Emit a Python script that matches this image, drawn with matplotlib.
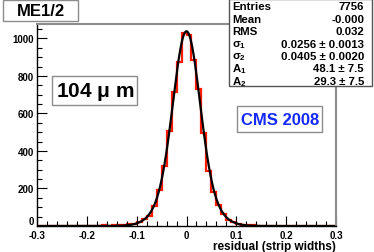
import numpy as np
import matplotlib
matplotlib.use("Agg")
import matplotlib.pyplot as plt
from matplotlib.ticker import MultipleLocator

plt.rcParams['font.family'] = ['Liberation Sans', 'DejaVu Sans']
plt.rcParams['font.weight'] = 'bold'
plt.rcParams['mathtext.fontset'] = 'custom'
plt.rcParams['mathtext.rm'] = 'Liberation Sans'
plt.rcParams['mathtext.bf'] = 'Liberation Sans:bold'
plt.rcParams['mathtext.it'] = 'Liberation Sans:italic'

# histogram: 60 bins of 0.01 from -0.3 to 0.3
x_lo, x_hi, n_bins = -0.3, 0.3, 60
counts = [0, 1, 0, 1, 0, 1, 1, 0, 2, 1, 1, 2, 2, 3, 2,
          3, 4, 6, 9, 13, 22, 38, 55, 104, 190, 318, 505, 712, 876, 1027,
          1018, 884, 728, 498, 292, 182, 112, 63, 34, 21, 11, 7, 5, 3, 2,
          2, 1, 2, 1, 1, 0, 1, 1, 0, 1, 0, 0, 1, 0, 1]

# double gaussian fit results from the stats box
entries = 7756
mean_txt = "-0.000"
rms = 0.032
sigma1, sigma1_err = 0.0256, 0.0013
sigma2, sigma2_err = 0.0405, 0.0020
a1, a1_err = 48.1, 7.5
a2, a2_err = 29.3, 7.5

title = "ME1/2"
resolution_label = r"104 $\mathregular{\mu}$ m"
cms_label = "CMS 2008"
x_label = "residual (strip widths)"
x_ticks = [-0.3, -0.2, -0.1, 0, 0.1, 0.2, 0.3]
x_ticklabels = ['-0.3', '-0.2', '-0.1', '0', '0.1', '0.2', '0.3']
y_ticks = [0, 200, 400, 600, 800, 1000]

W, H = 374, 253
fig = plt.figure(figsize=(W / 100, H / 100), dpi=100)
fig.patch.set_facecolor('white')

# axes box in pixel coords
left, right, top, bottom = 37, 336, 25, 227
ax = fig.add_axes([left / W, (H - bottom) / H, (right - left) / W, (bottom - top) / H])

edges = np.linspace(x_lo, x_hi, n_bins + 1)
ax.stairs(counts, edges, color='#ff1a00', lw=1.6)

bw = (x_hi - x_lo) / n_bins
xf = np.linspace(x_lo, x_hi, 600)
fit = (a1 / (np.sqrt(2 * np.pi) * sigma1) * np.exp(-xf**2 / (2 * sigma1**2))
       + a2 / (np.sqrt(2 * np.pi) * sigma2) * np.exp(-xf**2 / (2 * sigma2**2))) * bw / 0.01
ax.plot(xf, fit, color='black', lw=1.6)

ax.set_xlim(x_lo, x_hi)
ax.set_ylim(0, 1077)
ax.set_xticks(x_ticks)
ax.set_xticklabels(x_ticklabels)
ax.xaxis.set_minor_locator(MultipleLocator(0.02))
ax.set_yticks(y_ticks)
# the "0" of the y axis is placed by hand, just above "-0.3"
ax.set_yticklabels([''] + [str(v) for v in y_ticks[1:]])
ax.yaxis.set_minor_locator(MultipleLocator(50))
ax.tick_params(which='both', direction='in', top=False, right=False,
               labelsize=7, pad=2)
ax.tick_params(axis='x', pad=3)
ax.tick_params(which='major', length=7, width=0.8)
ax.tick_params(which='minor', length=3.5, width=0.8)
for lab in ax.get_xticklabels() + ax.get_yticklabels():
    lab.set_fontweight('bold')
ax.annotate(str(y_ticks[0]), xy=(0, 0), xycoords='axes fraction',
            xytext=(-2.5, 0), textcoords='offset points',
            ha='right', va='bottom', fontsize=7, fontweight='bold')
for s in ['left', 'bottom']:
    ax.spines[s].set_color('black')
    ax.spines[s].set_linewidth(1.0)
for s in ['top', 'right']:
    ax.spines[s].set_color('#8c8c8c')
    ax.spines[s].set_linewidth(1.5)

ax.set_xlabel(x_label, fontsize=8.5, fontweight='bold', loc='right', labelpad=0)


def px(x, y):
    return x / W, 1 - y / H


def box(x0, y0, x1, y1, ec='#8c8c8c', lw=1.0):
    r = plt.Rectangle(px(x0, y1), (x1 - x0) / W, (y1 - y0) / H,
                      transform=fig.transFigure, fc='white', ec=ec, lw=lw, zorder=5)
    fig.add_artist(r)


# title box
box(3, 1, 78, 22)
fig.text(*px(41, 12), title, ha='center', va='center', fontsize=12,
         fontweight='bold', zorder=6)

# stats box
box(229, 0, 372, 87, ec='#555555')
rows = [("Entries", f"{entries}"),
        ("Mean", mean_txt),
        ("RMS", f"{rms:.3f}"),
        (r"$\mathregular{\sigma_1}$", f"{sigma1:.4f} ± {sigma1_err:.4f}"),
        (r"$\mathregular{\sigma_2}$", f"{sigma2:.4f} ± {sigma2_err:.4f}"),
        (r"$\mathbf{A_1}$", f"{a1:.1f} ± {a1_err:.1f}"),
        (r"$\mathbf{A_2}$", f"{a2:.1f} ± {a2_err:.1f}")]
for i, (k, v) in enumerate(rows):
    yy = 7.5 + i * 12.4
    fig.text(*px(232, yy), k, ha='left', va='center', fontsize=8.2,
             fontweight='bold', zorder=6)
    fig.text(*px(364, yy), v, ha='right', va='center', fontsize=8.2,
             fontweight='bold', zorder=6)

# resolution box
box(52, 77, 137, 106)
fig.text(*px(95, 92), resolution_label, ha='center', va='center',
         fontsize=15, fontweight='bold', zorder=6)

# CMS box
box(237, 107, 322, 133)
fig.text(*px(280, 120.5), cms_label, ha='center', va='center',
         fontsize=12, fontweight='bold', color='#1428ff', zorder=6)

fig.savefig('out.png', dpi=100)
